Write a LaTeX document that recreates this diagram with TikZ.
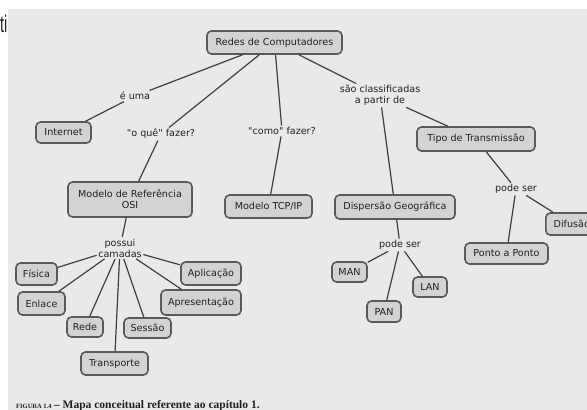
\documentclass[tikz,border=0pt]{standalone}
\usepackage{fontspec}
\setmainfont{DejaVu Sans}[Ligatures=TeXOff]
\newfontfamily\capfont{Liberation Serif}
\newfontfamily\edgefont{Liberation Sans}
\definecolor{panel}{HTML}{E9E9E9}
\definecolor{boxfill}{HTML}{D3D3D3}
\definecolor{boxline}{HTML}{5A5A5A}
\definecolor{ink}{HTML}{202020}
\definecolor{wire}{HTML}{404040}
\begin{document}
\begin{tikzpicture}[x=1pt,y=-1pt,
  concept/.style={draw=boxline, line width=1.6pt, fill=boxfill, rounded corners=4.5pt,
    text=ink, font=\fontsize{9.6}{11}\selectfont, inner sep=1pt, align=center},
  linkword/.style={text=ink, font=\fontsize{9.6}{11}\selectfont, inner sep=1.5pt, align=center},
  wirestyle/.style={draw=wire, line width=1.2pt}]
\useasboundingbox (0,0) rectangle (587,410);
\fill[white] (0,0) rectangle (587,410);
\fill[panel] (8,9) rectangle (587,410);
% cut-off text at top left
\node[anchor=east, inner sep=0pt, text=ink] (cut) at (7.5,24) {\scalebox{0.6}[1]{\edgefont\fontsize{24}{24}\selectfont ti}};
% concepts
\node[concept, minimum width=135pt, minimum height=23pt] (redes) at (274.5,42.5) {Redes de Computadores};
\node[concept, minimum width=55pt, minimum height=21pt] (internet) at (63.5,132.5) {Internet};
\node[concept, minimum width=118pt, minimum height=24pt] (tipo) at (476,139) {Tipo de Transmissão};
\node[concept, minimum width=124pt, minimum height=35pt] (osi) at (130,199.5) {Modelo de Referência\\OSI};
\node[concept, minimum width=87pt, minimum height=23pt] (tcp) at (268.5,206.5) {Modelo TCP/IP};
\node[concept, minimum width=120pt, minimum height=24pt] (disp) at (395,207) {Dispersão Geográfica};
\node[concept, minimum width=52pt, minimum height=22pt, anchor=west] (difusao) at (545,224) {Difusão};
\node[concept, minimum width=83pt, minimum height=21pt] (ponto) at (506.5,253.5) {Ponto a Ponto};
\node[concept, minimum width=35pt, minimum height=20pt] (man) at (349.5,272) {MAN};
\node[concept, minimum width=34pt, minimum height=20pt] (lan) at (430,287) {LAN};
\node[concept, minimum width=34pt, minimum height=21pt] (pan) at (384,311.5) {PAN};
\node[concept, minimum width=41pt, minimum height=22pt] (fisica) at (36.5,274) {Física};
\node[concept, minimum width=47pt, minimum height=23pt] (enlace) at (41.5,303.5) {Enlace};
\node[concept, minimum width=36pt, minimum height=20pt] (rede) at (85,327) {Rede};
\node[concept, minimum width=47pt, minimum height=20pt] (sessao) at (147.5,328) {Sessão};
\node[concept, minimum width=67pt, minimum height=23pt] (transporte) at (114.5,363.5) {Transporte};
\node[concept, minimum width=60pt, minimum height=23pt] (aplicacao) at (211,273.5) {Aplicação};
\node[concept, minimum width=80pt, minimum height=25pt] (apresentacao) at (201,302.5) {Apresentação};
% linking phrases
\node[linkword] (euma) at (135,96) {é uma};
\node[linkword] (oque) at (161,134) {"o quê" fazer?};
\node[linkword] (como) at (282,131) {"como" fazer?};
\node[linkword] (sao) at (380,95.5) {são classificadas\\a partir de};
\node[linkword] (podeA) at (516,189) {pode ser};
\node[linkword] (podeB) at (400,245) {pode ser};
\node[linkword] (possui) at (120,248) {possui\\camadas};
% connectors
\draw[wirestyle] (redes) -- (euma);
\draw[wirestyle] (euma) -- (internet);
\draw[wirestyle] (redes) -- (oque);
\draw[wirestyle] (oque) -- (osi);
\draw[wirestyle] (redes) -- (como);
\draw[wirestyle] (como) -- (tcp);
\draw[wirestyle] (redes) -- (sao);
\draw[wirestyle] (sao) -- (disp);
\draw[wirestyle] (sao) -- (tipo);
\draw[wirestyle] (tipo) -- (podeA);
\draw[wirestyle] (podeA) -- (difusao);
\draw[wirestyle] (podeA) -- (ponto);
\draw[wirestyle] (disp) -- (podeB);
\draw[wirestyle] (podeB) -- (man);
\draw[wirestyle] (podeB) -- (pan);
\draw[wirestyle] (podeB) -- (lan);
\draw[wirestyle] (osi) -- (possui);
\draw[wirestyle] (possui) -- (fisica);
\draw[wirestyle] (possui) -- (enlace);
\draw[wirestyle] (possui) -- (rede);
\draw[wirestyle] (possui) -- (transporte);
\draw[wirestyle] (possui) -- (sessao);
\draw[wirestyle] (possui) -- (apresentacao);
\draw[wirestyle] (possui) -- (aplicacao);
% caption
\node[anchor=base west, inner sep=0pt, text=ink] (caption) at (16,408)
  {\capfont\bfseries{\fontsize{6.5}{7}\selectfont FIGURA 1.4} {\fontsize{11.5}{12}\selectfont – Mapa conceitual referente ao capítulo 1.}};
\end{tikzpicture}
\end{document}
